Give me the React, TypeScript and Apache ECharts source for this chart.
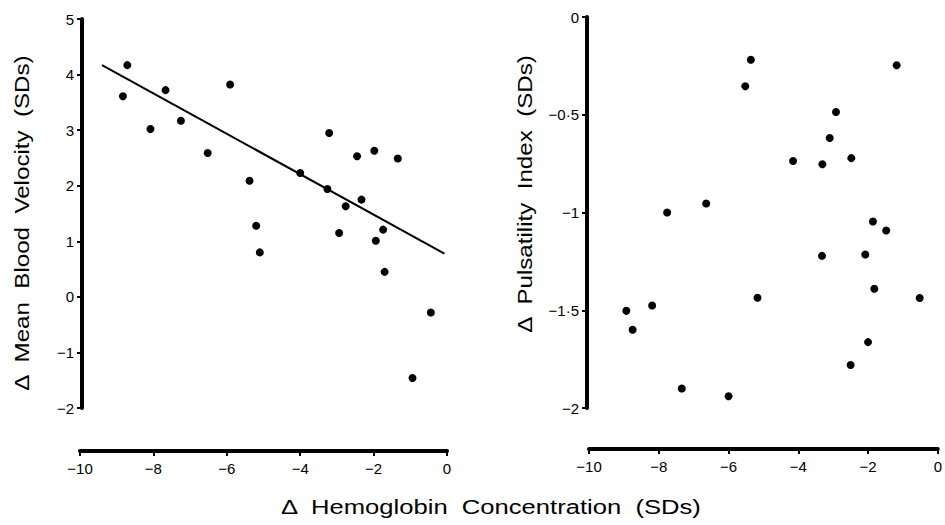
import React, { useEffect, useRef } from "react";
import * as echarts from "echarts";

const FONT = "'Liberation Sans', Arial, sans-serif";

// Left panel: Δ Mean Blood Velocity vs Δ Hemoglobin
const velX = [-8.83, -8.71, -8.08, -7.67, -7.25, -6.52, -5.91, -5.38, -5.2, -5.1, -4.0, -3.21, -3.26, -2.94, -2.76, -2.45, -2.33, -1.98, -1.94, -1.74, -1.7, -1.34, -0.44, -0.94];
const velY = [3.61, 4.17, 3.02, 3.72, 3.17, 2.59, 3.82, 2.09, 1.28, 0.8, 2.23, 2.95, 1.94, 1.15, 1.63, 2.53, 1.75, 2.63, 1.01, 1.21, 0.45, 2.49, -0.28, -1.46];
const fitX = [-9.4, -0.07];
const fitY = [4.17, 0.78];

// Right panel: Δ Pulsatility Index vs Δ Hemoglobin
const piX = [-8.93, -8.75, -8.19, -7.76, -7.34, -6.64, -6.0, -5.52, -5.36, -5.17, -4.15, -3.32, -3.31, -3.1, -2.92, -2.5, -2.48, -2.08, -2.0, -1.86, -1.82, -1.48, -1.18, -0.52];
const piY = [-1.503, -1.6, -1.476, -1.0, -1.9, -0.954, -1.94, -0.354, -0.219, -1.436, -0.737, -1.222, -0.753, -0.619, -0.486, -1.78, -0.722, -1.215, -1.663, -1.046, -1.39, -1.092, -0.247, -1.437];

const xTicks = [-10, -8, -6, -4, -2, 0];
const velTicks = [-2, -1, 0, 1, 2, 3, 4, 5];
const piTicks = [-2, -1.5, -1, -0.5, 0];

const leftTitle = "Δ  Mean  Blood  Velocity  (SDs)";
const rightTitle = "Δ  Pulsatility  Index  (SDs)";
const bottomTitle = "Δ  Hemoglobin  Concentration  (SDs)";

const fmt = (v: number) => {
  const s = String(v);
  return s.replace("-", "\u2212").replace(".", "\u00b7");
};

function zip(a: number[], b: number[]) {
  return a.map((v, i) => [v, b[i]]);
}

export default function App() {
  const ref = useRef<HTMLDivElement>(null);
  useEffect(() => {
    if (!ref.current) return;
    const chart = echarts.init(ref.current, null, { renderer: "svg" });
    const axisLine = { show: true, onZero: false, lineStyle: { color: "#000", width: 4 } };
    const axisTick = { show: true, length: 5, lineStyle: { color: "#000", width: 2 } };
    const axisLabel = { color: "#000", fontSize: 15, fontFamily: FONT, formatter: (v: number) => fmt(v) };
    const xCommon = {
      type: "value",
      min: xTicks[0],
      max: xTicks[xTicks.length - 1],
      interval: 2,
      position: "bottom",
      axisLine,
      axisTick,
      axisLabel: { ...axisLabel, margin: 10 },
      splitLine: { show: false },
    };
    const dot = { color: "#000", opacity: 1 };
    const titleStyle = (text: string) => ({
      text,
      font: `21px ${FONT}`,
      fill: "#000",
      align: "center",
      verticalAlign: "middle",
    });
    chart.setOption({
      animation: false,
      backgroundColor: "#fff",
      grid: [
        { left: 80, width: 367, top: 19, height: 389 },
        { left: 589, width: 355, top: 17, height: 391 },
      ],
      xAxis: [
        { ...xCommon, gridIndex: 0, offset: 43 },
        { ...xCommon, gridIndex: 1, offset: 41 },
      ],
      yAxis: [
        {
          type: "value",
          gridIndex: 0,
          min: velTicks[0],
          max: velTicks[velTicks.length - 1],
          interval: 1,
          position: "left",
          offset: -2,
          axisLine,
          axisTick,
          axisLabel: { ...axisLabel, margin: 8 },
          splitLine: { show: false },
        },
        {
          type: "value",
          gridIndex: 1,
          min: piTicks[0],
          max: piTicks[piTicks.length - 1],
          interval: 0.5,
          position: "left",
          offset: 2,
          axisLine,
          axisTick,
          axisLabel: { ...axisLabel, margin: 8 },
          splitLine: { show: false },
        },
      ],
      series: [
        {
          type: "line",
          xAxisIndex: 0,
          yAxisIndex: 0,
          data: zip(fitX, fitY),
          symbol: "none",
          lineStyle: { color: "#000", width: 2 },
        },
        {
          type: "scatter",
          xAxisIndex: 0,
          yAxisIndex: 0,
          data: zip(velX, velY),
          symbolSize: 8,
          itemStyle: dot,
        },
        {
          type: "scatter",
          xAxisIndex: 1,
          yAxisIndex: 1,
          data: zip(piX, piY),
          symbolSize: 8,
          itemStyle: dot,
        },
      ],
      graphic: [
        {
          type: "text",
          x: 22,
          y: 223,
          rotation: Math.PI / 2,
          scaleX: 1.15,
          style: titleStyle(leftTitle),
        },
        {
          type: "text",
          x: 525,
          y: 194,
          rotation: Math.PI / 2,
          scaleX: 1.15,
          style: titleStyle(rightTitle),
        },
        {
          type: "text",
          x: 491,
          y: 507,
          scaleX: 1.22,
          style: titleStyle(bottomTitle),
        },
      ],
    });
    return () => chart.dispose();
  }, []);
  return (
    <div
      ref={ref}
      style={{ position: "absolute", left: 0, top: 0, width: 945, height: 525 }}
    />
  );
}
